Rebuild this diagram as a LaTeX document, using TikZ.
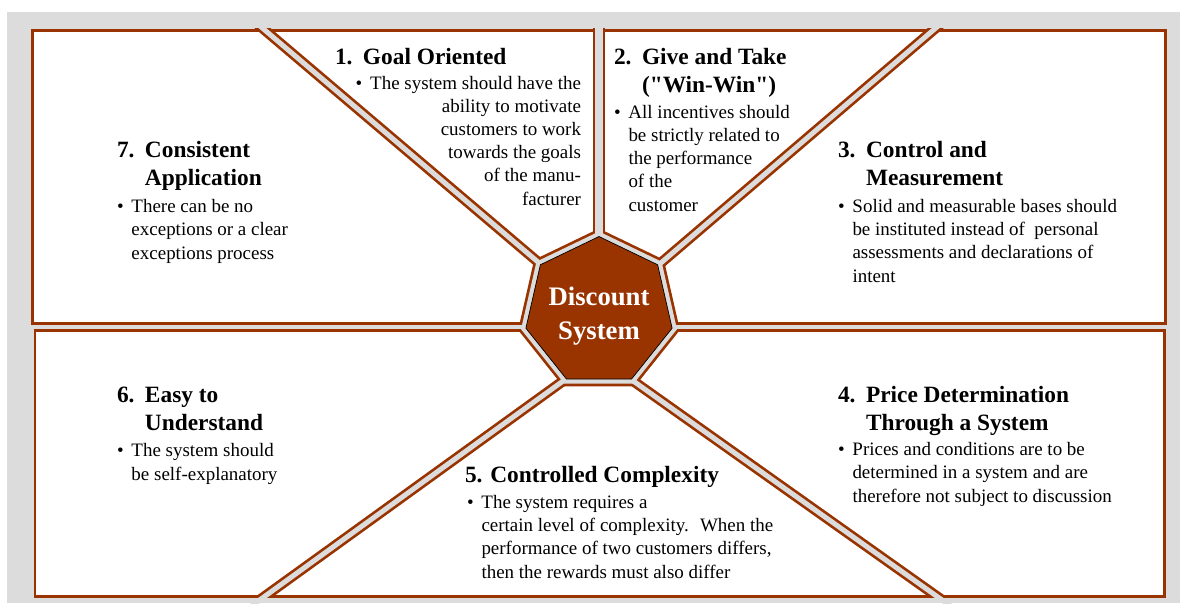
\documentclass[tikz,border=0pt]{standalone}
\usepackage{fontspec}
\setmainfont{Liberation Serif}[Ligatures=TeXOff]
\usepackage{tikz}
\usetikzlibrary{shapes.geometric}

\definecolor{rust}{HTML}{993300}
\definecolor{gapgray}{HTML}{DCDCDC}

% number and bullet boxes with hanging indent
\newcommand{\hnum}[1]{\makebox[0.56cm][l]{#1}}
\newcommand{\hind}{\hspace*{0.56cm}}
\newcommand{\bul}{\makebox[0.29cm][l]{\textbullet}}
\newcommand{\bind}{\hspace*{0.29cm}}

\begin{document}
\begin{tikzpicture}[x=0.02cm,y=-0.02cm,
  every node/.style={inner sep=0pt,outer sep=0pt},
  panel/.style={fill=white,draw=rust,line width=0.054cm},
  cut/.style={draw=gapgray,line width=0.1cm},
  cutedge/.style={draw=rust,line width=0.208cm},
  hept/.style={regular polygon,regular polygon sides=7},
  head/.style={anchor=base west,align=left,font=\fontsize{13.3}{15.9}\selectfont\bfseries},
  body/.style={anchor=base west,align=left,font=\fontsize{10.8}{13.1}\selectfont},
  coretext/.style={anchor=base,align=center,text=white,font=\fontsize{15.2}{18.8}\selectfont\bfseries}]
\useasboundingbox (0,0) rectangle (1180,603);
\fill[gapgray] (7,12) rectangle (1180,603);
\draw[panel] (32.2,30.2) rectangle (1165.5,323.8);
\draw[panel] (35,330.7) rectangle (1164.2,596.5);
\node[hept,minimum size=3cm] (core) at (599,311.5) {};
% brown edges of the gaps
\begin{scope}
\clip (30.8,28.8) rectangle (1166.9,325.2);
\draw[cutedge,line width=0.258cm] (core.90) -- (599,15);
\draw[cutedge] (core.141.43) -- (247,15);
\draw[cutedge] (core.38.57) -- (951,15);
\end{scope}
\begin{scope}
\clip (33.6,329.3) rectangle (1165.6,597.9);
\draw[cutedge] (core.244.29) -- (243,612);
\draw[cutedge] (core.295.71) -- (959,612);
\end{scope}
\node[hept,minimum size=3.32cm,fill=rust] (ring) at (core) {};
% gray gaps
\draw[cut,line width=0.15cm] (core.90) -- (599,15);
\draw[cut] (core.141.43) -- (247,15);
\draw[cut] (core.38.57) -- (951,15);
\draw[cut] (core.244.29) -- (243,612);
\draw[cut] (core.295.71) -- (959,612);
\draw[cut,line width=0.08cm] (20,327.25) -- (1175,327.25);
\node[hept,minimum size=3.2cm,fill=gapgray] (gap) at (core) {};
\node[hept,minimum size=3cm,fill=rust,draw=black,line width=0.4pt] (disc) at (core) {};
\node[coretext] (name) at (599,339) {Discount\\System};

\node[head] (h1) at (335,64) {\hnum{1.}Goal Oriented};
\node[body,anchor=base east,align=right] (b1) at (581,205) {\bul The system should have the\\ability to motivate\\customers to work\\towards the goals\\of the manu-\\facturer};
\node[head] (h2) at (614,92) {\hnum{2.}Give and Take\\\hind("Win-Win")};
\node[body] (b2) at (614,211) {\bul All incentives should\\\bind be strictly related to\\\bind the performance\\\bind of the\\\bind customer};
\node[head] (h3) at (838,185) {\hnum{3.}Control and\\\hind Measurement};
\node[body] (b3) at (838,282) {\bul Solid and measurable bases should\\\bind be instituted instead of \ personal\\\bind assessments and declarations of\\\bind intent};
\node[head] (h4) at (838,430) {\hnum{4.}Price Determination\\\hind Through a System};
\node[body] (b4) at (838,502) {\bul Prices and conditions are to be\\\bind determined in a system and are\\\bind therefore not subject to discussion};
\node[head] (h5) at (465,482) {5. Controlled Complexity};
\node[body] (b5) at (467,578) {\bul The system requires a\\\bind certain level of complexity. \ When the\\\bind performance of two customers differs,\\\bind then the rewards must also differ};
\node[head] (h6) at (117,430) {\hnum{6.}Easy to\\\hind Understand};
\node[body] (b6) at (117,480) {\bul The system should\\\bind be self-explanatory};
\node[head] (h7) at (117,185) {\hnum{7.}Consistent\\\hind Application};
\node[body] (b7) at (117,259) {\bul There can be no\\\bind exceptions or a clear\\\bind exceptions process};
\end{tikzpicture}
\end{document}
